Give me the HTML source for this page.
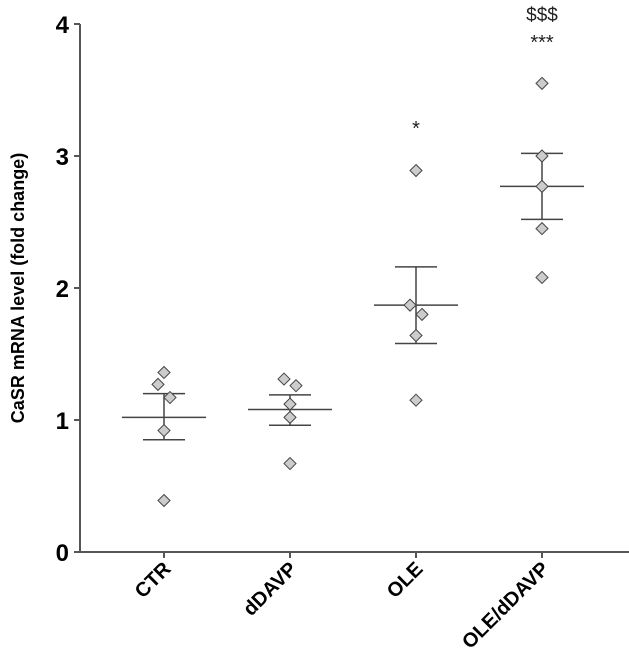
<!DOCTYPE html>
<html><head><meta charset="utf-8"><style>
body{margin:0;background:#fff}
svg{display:block;font-family:"Liberation Sans",Arial,sans-serif}
</style></head><body>
<svg id="chart" width="629" height="669" viewBox="0 0 629 669">
<g id="axes"></g>
<g id="marks"></g>
</svg>
<script>
const categories=["CTR","dDAVP","OLE","OLE/dDAVP"];
const pointValues=[[1.36,1.27,1.17,0.92,0.39],[1.31,1.26,1.12,1.02,0.67],[2.89,1.87,1.80,1.64,1.15],[3.55,3.00,2.77,2.45,2.08]];
const pointJitter=[[0,-1,1,0,0],[-1,1,0,0,0],[0,-1,1,0,0],[0,0,0,0,0]];
const means=[1.02,1.08,1.87,2.77];
const semHigh=[1.20,1.19,2.16,3.02];
const semLow=[0.85,0.96,1.58,2.52];
const sigLabels=[[],[],["*"],["***","$$$"]];
const yTicks=[0,1,2,3,4];
const NS="http://www.w3.org/2000/svg";
const y=v=>552-v*132;
const x=i=>164+i*126;
function mk(p,t,a){const e=document.createElementNS(NS,t);for(const k in a)e.setAttribute(k,a[k]);p.appendChild(e);return e;}
const ax=document.getElementById('axes'),mg=document.getElementById('marks');
let l=mk(ax,'line',{x1:80,y1:y(4),x2:80,y2:552,stroke:'#555','stroke-width':2});


l=mk(ax,'line',{x1:80,y1:552,x2:629,y2:552,stroke:'#555','stroke-width':2});


yTicks.forEach(v=>{
 mk(ax,'line',{x1:74,y1:y(v),x2:80,y2:y(v),stroke:'#555','stroke-width':2});
 const t=mk(ax,'text',{x:69,y:y(v)+9,'text-anchor':'end','font-size':24,'font-weight':'bold'});t.textContent=v;
 
 
});
const yt=mk(ax,'text',{x:0,y:0,transform:'translate(24,288) rotate(-90)','text-anchor':'middle','font-size':18,'font-weight':'bold'});
yt.textContent='CaSR mRNA level (fold change)';


categories.forEach((c,i)=>{
 const cx=x(i);
 mk(ax,'line',{x1:cx,y1:552,x2:cx,y2:558,stroke:'#555','stroke-width':2});
 const t=mk(ax,'text',{x:0,y:0,transform:`translate(${cx+8},${570}) rotate(-45)`,'text-anchor':'end','font-size':20,'font-weight':'bold'});
 t.textContent=c;
 
 
 const g=mk(mg,'g',{});
 
 
 mk(g,'line',{x1:cx,y1:y(semHigh[i]),x2:cx,y2:y(semLow[i]),stroke:'#444','stroke-width':1.5});
 mk(g,'line',{x1:cx-21,y1:y(semHigh[i]),x2:cx+21,y2:y(semHigh[i]),stroke:'#444','stroke-width':1.5});
 mk(g,'line',{x1:cx-21,y1:y(semLow[i]),x2:cx+21,y2:y(semLow[i]),stroke:'#444','stroke-width':1.5});
 mk(g,'line',{x1:cx-42,y1:y(means[i]),x2:cx+42,y2:y(means[i]),stroke:'#444','stroke-width':1.5});
 pointValues[i].forEach((v,j)=>{
  const px=cx+pointJitter[i][j]*6,py=y(v);
  const d=mk(g,'polygon',{points:`${px},${py-6} ${px+6},${py} ${px},${py+6} ${px-6},${py}`,fill:'#ccc',stroke:'#444','stroke-width':1});
  
  
 });
 sigLabels[i].forEach((s,k)=>{
  const st=s.startsWith('*');
  const t=mk(g,'text',{x:cx,y:st?(i==2?135:49):21,'text-anchor':'middle','font-size':st?20:19,fill:'#222'});
  t.textContent=s;
  
  
 });
});
</script>
</body></html>
